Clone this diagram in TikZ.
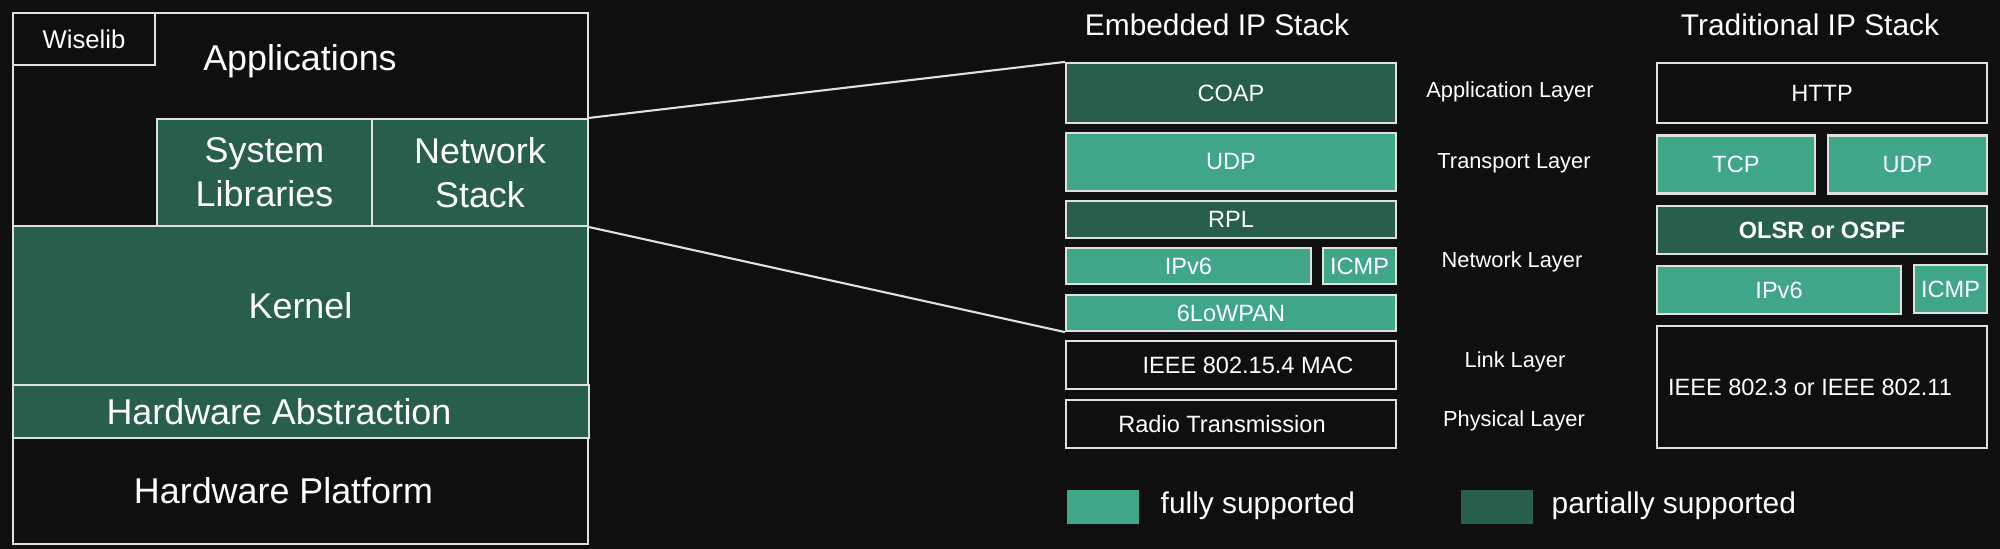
\documentclass[tikz,border=0pt]{standalone}
\usepackage{fontspec}
\setmainfont{Liberation Sans}
\usepackage{tikz}

\definecolor{bgcol}{HTML}{0F0F0F}
\definecolor{partgreen}{HTML}{275E4C}
\definecolor{fullgreen}{HTML}{3FA687}
\definecolor{edgecol}{HTML}{E0E0E0}

\newcommand{\fsbig}{\fontsize{10.2}{12.5}\selectfont}
\newcommand{\fswise}{\fontsize{7.3}{9}\selectfont}
\newcommand{\fstitle}{\fontsize{8.5}{10}\selectfont}
\newcommand{\fsbox}{\fontsize{6.7}{8}\selectfont}
\newcommand{\fslayer}{\fontsize{6.2}{7.5}\selectfont}

\begin{document}
\begin{tikzpicture}[x=0.01cm, y=-0.01cm,
    box/.style={rectangle, draw=edgecol, line width=0.6pt, text=white,
      inner sep=0pt, font=\fsbox},
    fullbox/.style={box, fill=fullgreen},
    partbox/.style={box, fill=partgreen},
    blackbox/.style={box, fill=bgcol},
    bigbox/.style={box, font=\fsbig, align=center},
    laylbl/.style={text=white, font=\fslayer},
    keybox/.style={rectangle, inner sep=0pt, minimum width=0.72cm, minimum height=0.34cm},
    keylbl/.style={text=white, font=\fstitle, anchor=west, inner sep=0pt}]

        % background
        \fill [bgcol] (0, 0) rectangle (2000, 549);
        \useasboundingbox (0, 0) rectangle (2000, 549);

        % node software stack
        \draw [edgecol, line width=0.6pt] (13, 13) rectangle (588, 544);
        \node [blackbox, font=\fswise, minimum width=1.42cm, minimum height=0.52cm]
          (wiselib) at (84, 39) {Wiselib};
        \node [text=white, font=\fsbig] (apps) at (300, 61) {Applications};

        \node [bigbox, fill=partgreen, minimum width=2.15cm, minimum height=1.07cm]
          (syslib) at (264.5, 172.5) {System\\Libraries};
        \node [bigbox, fill=partgreen, minimum width=2.16cm, minimum height=1.07cm]
          (netstack) at (480, 172.5) {Network\\Stack};

        \node [bigbox, fill=partgreen, minimum width=5.75cm, minimum height=1.59cm]
          (kernel) at (300.5, 305.5) {Kernel};
        \node [bigbox, fill=partgreen, minimum width=5.76cm, minimum height=0.53cm]
          (hwabs) at (301, 411.5) {Hardware Abstraction\hspace*{0.44cm}};
        \node [bigbox, fill=bgcol, minimum width=5.75cm, minimum height=1.06cm]
          (hwplat) at (300.5, 491) {Hardware Platform\hspace*{0.34cm}};

        % embedded IP stack
        \node [text=white, font=\fstitle] (embtitle) at (1217, 24.5) {Embedded IP Stack};

        \node [partbox, minimum width=3.3cm, minimum height=0.6cm]
          (coap) at (1231, 93) {COAP};
        \node [fullbox, minimum width=3.3cm, minimum height=0.58cm]
          (udpa) at (1231, 162) {UDP};
        \node [partbox, minimum width=3.3cm, minimum height=0.37cm]
          (rpl) at (1231, 219.5) {RPL};
        \node [fullbox, minimum width=2.45cm, minimum height=0.365cm]
          (ipva) at (1188.5, 266) {IPv6};
        \node [fullbox, minimum width=0.73cm, minimum height=0.365cm]
          (icmpa) at (1359.5, 266) {ICMP};
        \node [fullbox, minimum width=3.3cm, minimum height=0.36cm]
          (lowpan) at (1231, 313) {6LoWPAN};
        \node [blackbox, minimum width=3.3cm, minimum height=0.48cm]
          (mac) at (1231, 365) {\hspace*{0.34cm}IEEE 802.15.4 MAC};
        \node [blackbox, minimum width=3.3cm, minimum height=0.48cm]
          (radio) at (1231, 424) {Radio Transmission\hspace*{0.18cm}};

        % layer names
        \node [laylbl] (applayer) at (1510, 92) {Application Layer};
        \node [laylbl] (translayer) at (1514, 163.5) {Transport Layer};
        \node [laylbl] (netlayer) at (1512, 262) {Network Layer};
        \node [laylbl] (linklayer) at (1515, 362) {Link Layer};
        \node [laylbl] (phylayer) at (1514, 421) {Physical Layer};

        % traditional IP stack
        \node [text=white, font=\fstitle] (tradtitle) at (1810, 24.5) {Traditional IP Stack};

        \node [blackbox, minimum width=3.3cm, minimum height=0.6cm]
          (http) at (1822, 93) {HTTP};
        \node [fullbox, minimum width=1.58cm, minimum height=0.58cm]
          (tcp) at (1736, 164.5) {TCP};
        \node [fullbox, minimum width=1.59cm, minimum height=0.58cm]
          (udpb) at (1907.5, 164.5) {UDP};
        \node [partbox, minimum width=3.3cm, minimum height=0.48cm]
          (olsr) at (1822, 230) {\bfseries OLSR or OSPF};
        \node [fullbox, minimum width=2.44cm, minimum height=0.48cm]
          (ipvb) at (1779, 290) {IPv6};
        \node [fullbox, minimum width=0.73cm, minimum height=0.48cm]
          (icmpb) at (1950.5, 289) {ICMP};
        \node [blackbox, minimum width=3.3cm, minimum height=1.215cm]
          (ieee) at (1822, 387) {IEEE 802.3 or IEEE 802.11\hspace*{0.24cm}};

        % zoom lines
        \draw [edgecol, line width=0.6pt] (netstack.north east) -- (coap.north west);
        \draw [edgecol, line width=0.6pt] (netstack.south east) -- (lowpan.south west);

        % legend
        \node [keybox, fill=fullgreen] (fullkey) at (1103, 507) {};
        \node [keylbl] (fulltext) at (1160, 506) {fully supported};
        \node [keybox, fill=partgreen] (partkey) at (1496.5, 507) {};
        \node [keylbl] (parttext) at (1551, 506) {partially supported};

      \end{tikzpicture}
\end{document}
